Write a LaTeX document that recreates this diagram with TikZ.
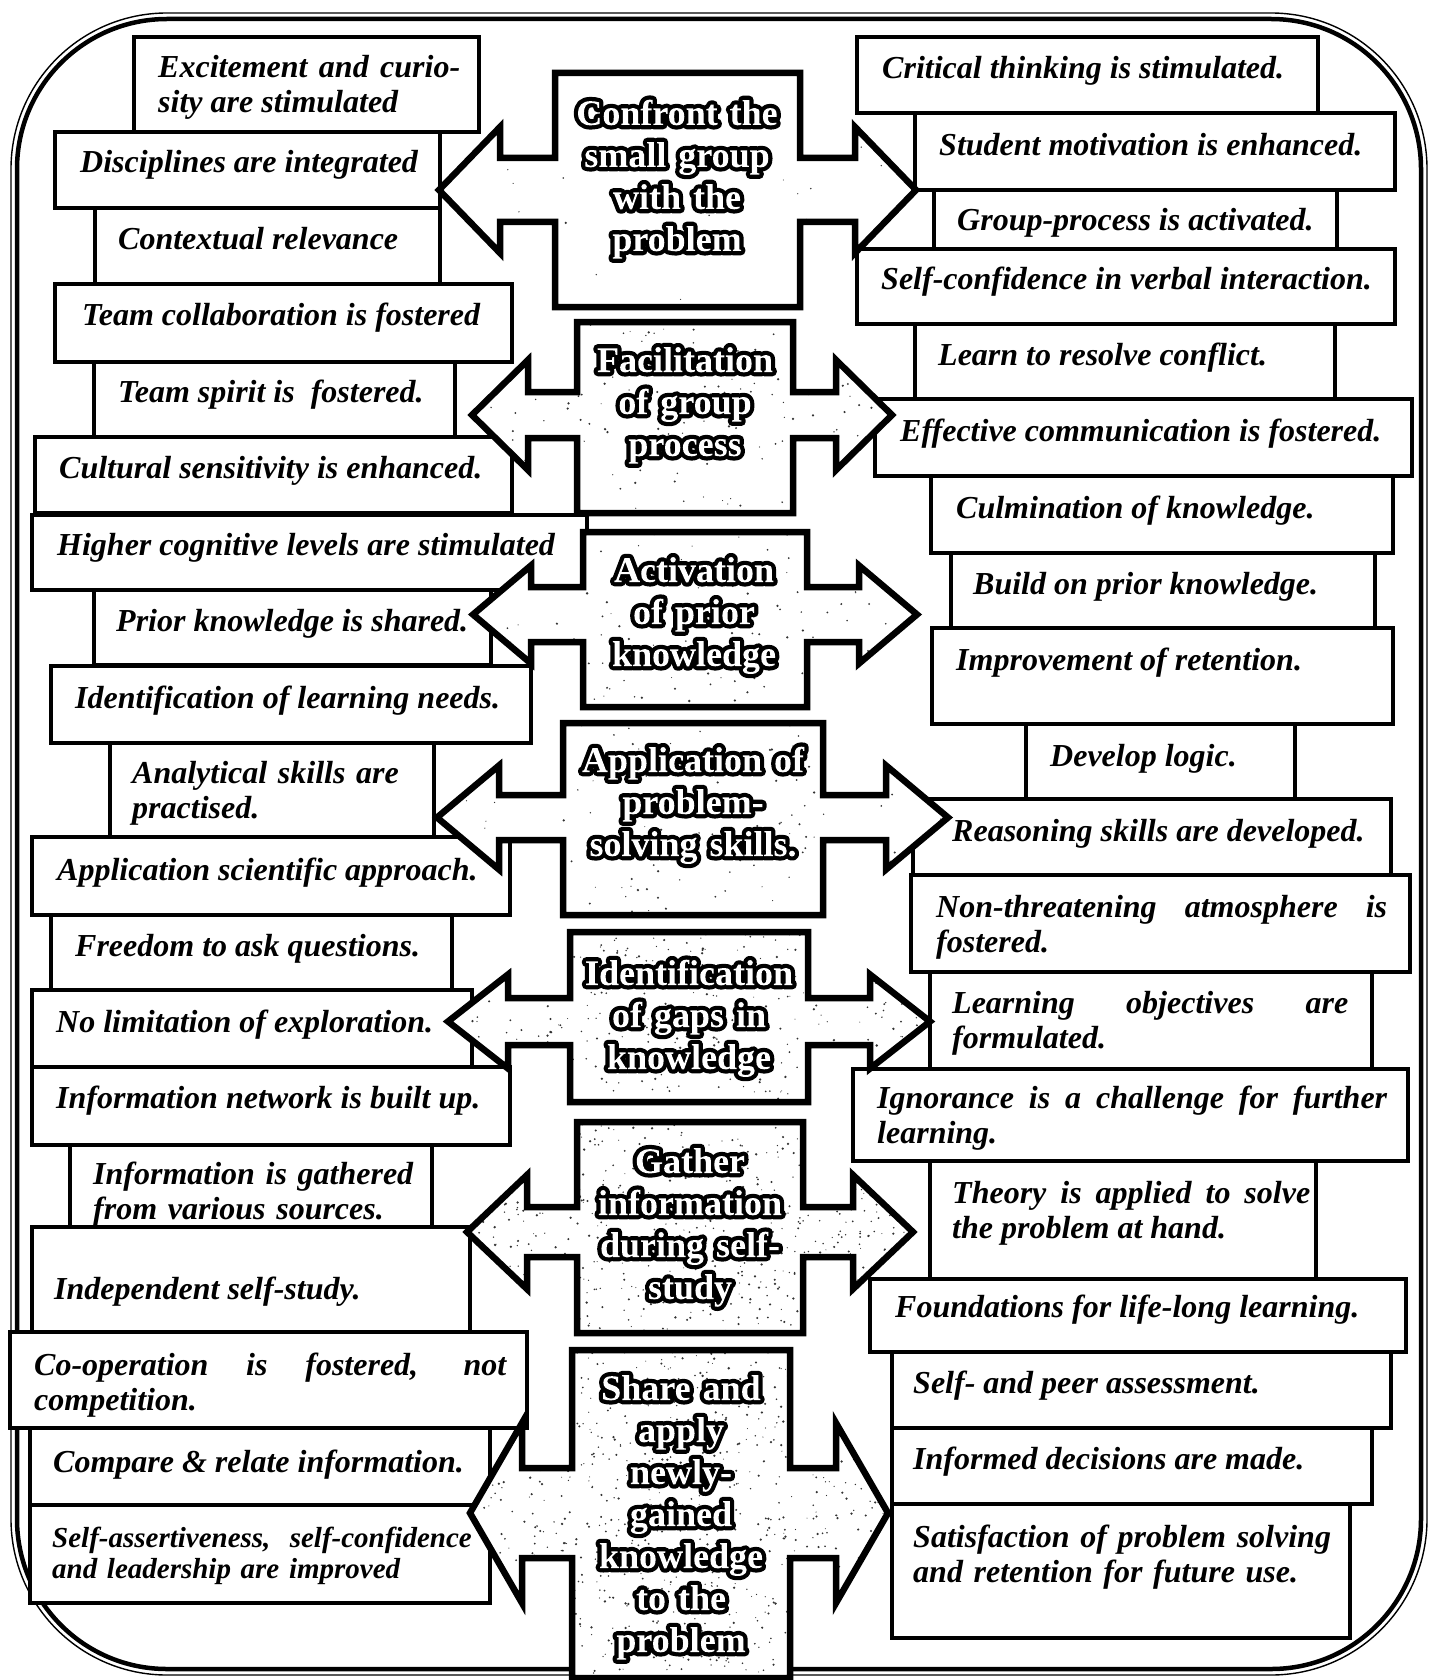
\documentclass[tikz,border=0pt]{standalone}
\usepackage{fontspec}
\setmainfont{Liberation Serif}

% head half-height and head depth of the double-headed arrows
\newcommand\headhalf{55}
\newcommand\headdepth{58}

% #1,#2 top-left corner of the centre box, #3,#4 bottom-right corner,
% #5,#6 top and bottom of the arms, #7,#8 x of the left and right tips,
% #9 number of specks in the grainy fill
\newcommand\dblarrow[9]{%
  \def\arrowoutline{(#1,#2) -- (#3,#2) -- (#3,#5) -- ({#8-\headdepth},#5)
    -- ({#8-\headdepth},{(#5+#6)/2-\headhalf}) -- (#8,{(#5+#6)/2})
    -- ({#8-\headdepth},{(#5+#6)/2+\headhalf}) -- ({#8-\headdepth},#6)
    -- (#3,#6) -- (#3,#4) -- (#1,#4) -- (#1,#6) -- ({#7+\headdepth},#6)
    -- ({#7+\headdepth},{(#5+#6)/2+\headhalf}) -- (#7,{(#5+#6)/2})
    -- ({#7+\headdepth},{(#5+#6)/2-\headhalf}) -- ({#7+\headdepth},#5)
    -- (#1,#5) -- cycle}%
  \fill[white] \arrowoutline;
  \begin{scope}
    \clip \arrowoutline;
    \foreach \k in {1,...,#9}
      \fill[speck] ({#7+rnd*(#8-#7)},{#2+rnd*(#4-#2)}) circle ({0.5+0.8*rnd});
  \end{scope}
  \draw[arrowline] \arrowoutline;
}

% white letters with a black outline: the glyphs are stroked thick in black
% and clipped, then their inside is filled white
\newcommand\outl[1]{%
  \special{pdf:btrans matrix 1 0 0 1 0 0}%
  \special{pdf:literal direct 5 Tr 8.5 w 1 j 0 G}%
  #1%
  \special{pdf:literal direct 1 g -20000 -20000 40000 40000 re f}%
  \special{pdf:etrans}}

\begin{document}
\begin{tikzpicture}[x=1pt,y=-1pt,
  box/.style={draw=black, line width=3.4pt, fill=white},
  arrowline/.style={draw=black, line width=6.5pt, line join=miter},
  speck/.style={fill=black!80},
  lbl/.style={anchor=base west, inner sep=0pt,
    font=\fontsize{32}{35}\selectfont\bfseries\itshape},
  just/.style={lbl, align=justify, text width=#1},
  lines/.style={lbl, align=left, text width=#1},
  hub/.style={anchor=base, inner sep=0pt, text=white, align=center,
    text width=262pt, font=\fontsize{36}{42}\selectfont\bfseries}]
\useasboundingbox (0,0) rectangle (1433,1680);
\pgfmathsetseed{7}

% outer double frame
\draw[line width=1.4pt, rounded corners=156pt] (11,13) rectangle (1427,1675);
\draw[line width=4.5pt, rounded corners=150pt] (17,19) rectangle (1421,1669);

% left column of boxes
\draw[box] (134,37) rectangle (479,132);
\draw[box] (55,132) rectangle (440,208);
\draw[box] (95,208) rectangle (440,284);
\draw[box] (55,284) rectangle (512,362);
\draw[box] (94,362) rectangle (455,437);
\draw[box] (35,437) rectangle (512,513);
\draw[box] (32,515) rectangle (587,590);
\draw[box] (94,590) rectangle (491,665);
\draw[box] (51,666) rectangle (531,743);
\draw[box] (110,743) rectangle (434,837);
\draw[box] (32,837) rectangle (510,915);
\draw[box] (51,915) rectangle (452,990);
\draw[box] (32,990) rectangle (472,1067);
\draw[box] (32,1067) rectangle (510,1145);
\draw[box] (70,1145) rectangle (432,1227);
\draw[box] (32,1227) rectangle (470,1332);
\draw[box] (10,1332) rectangle (527,1428);
\draw[box] (30,1428) rectangle (490,1505);
\draw[box] (30,1505) rectangle (490,1603);

% right column of boxes
\draw[box] (857,37) rectangle (1318,113);
\draw[box] (915,113) rectangle (1395,190);
\draw[box] (934,190) rectangle (1337,249);
\draw[box] (857,249) rectangle (1395,324);
\draw[box] (915,324) rectangle (1335,399);
\draw[box] (875,399) rectangle (1412,476);
\draw[box] (931,476) rectangle (1393,553);
\draw[box] (951,553) rectangle (1375,628);
\draw[box] (932,628) rectangle (1393,724);
\draw[box] (1026,724) rectangle (1295,799);
\draw[box] (913,799) rectangle (1391,875);
\draw[box] (911,875) rectangle (1410,972);
\draw[box] (930,972) rectangle (1372,1069);
\draw[box] (853,1069) rectangle (1408,1161);
\draw[box] (930,1161) rectangle (1316,1279);
\draw[box] (870,1279) rectangle (1406,1352);
\draw[box] (892,1352) rectangle (1391,1428);
\draw[box] (892,1428) rectangle (1372,1504);
\draw[box] (892,1504) rectangle (1350,1638);

% central double-headed arrows
\renewcommand\headhalf{63}\renewcommand\headdepth{61}
\dblarrow{555}{73}{800}{307}{158}{222}{439}{916}{40}
\renewcommand\headhalf{55}\renewcommand\headdepth{56}
\dblarrow{577}{322}{793}{513}{392}{438}{472}{892}{170}
\renewcommand\headhalf{49}\renewcommand\headdepth{58}
\dblarrow{583}{532}{807}{707}{587}{642}{473}{917}{130}
\renewcommand\headhalf{52}\renewcommand\headdepth{62}
\dblarrow{563}{723}{823}{915}{795}{840}{437}{948}{170}
\renewcommand\headhalf{47}\renewcommand\headdepth{60}
\dblarrow{570}{932}{808}{1102}{998}{1045}{448}{930}{380}
\renewcommand\headhalf{57}\renewcommand\headdepth{60}
\dblarrow{577}{1122}{803}{1333}{1207}{1257}{467}{913}{650}
\renewcommand\headhalf{90}\renewcommand\headdepth{52}
\dblarrow{572}{1350}{790}{1678}{1468}{1558}{470}{888}{900}

% texts of the left column
\node[just=302pt] (l1) at (158,78) {Excitement and curio-\linebreak sity are stimulated};
\node[lbl] (l2) at (80,173) {Disciplines are integrated};
\node[lbl] (l3) at (118,250) {Contextual relevance};
\node[lbl] (l4) at (82,325) {Team collaboration is fostered};
\node[lbl] (l5) at (118,402) {Team spirit is\ \ fostered.};
\node[lbl] (l6) at (59,478) {Cultural sensitivity is enhanced.};
\node[lbl] (l7) at (57,555) {Higher cognitive levels are stimulated};
\node[lbl] (l8) at (116,631) {Prior knowledge is shared.};
\node[lbl] (l9) at (75,708) {Identification of learning needs.};
\node[lines=290pt] (l10) at (132,783) {Analytical skills are\\practised.};
\node[lbl] (l11) at (57,880) {Application scientific approach.};
\node[lbl] (l12) at (75,956) {Freedom to ask questions.};
\node[lbl] (l13) at (56,1032) {No limitation of exploration.};
\node[lbl] (l14) at (56,1108) {Information network is built up.};
\node[lines=330pt] (l15) at (93,1184) {Information is gathered\\from various sources.};
\node[lbl] (l16) at (54,1299) {Independent self-study.};
\node[just=472pt] (l17) at (34,1375) {Co-operation is fostered, not\linebreak competition.};
\node[lbl] (l18) at (53,1472) {Compare \& relate information.};
\node[lines=430pt, font=\fontsize{29}{31}\selectfont\bfseries\itshape] (l19) at (52,1547)
  {Self-assertiveness,\ \ self-confidence\\and leadership are improved};

% texts of the right column
\node[lbl] (r1) at (882,79) {Critical thinking is stimulated.};
\node[lbl] (r2) at (939,156) {Student motivation is enhanced.};
\node[lbl] (r3) at (957,231) {Group-process is activated.};
\node[lbl] (r4) at (881,289) {Self-confidence in verbal interaction.};
\node[lbl] (r5) at (938,365) {Learn to resolve conflict.};
\node[lbl] (r6) at (900,441) {Effective communication is fostered.};
\node[lbl] (r7) at (956,518) {Culmination of knowledge.};
\node[lbl] (r8) at (973,594) {Build on prior knowledge.};
\node[lbl] (r9) at (956,670) {Improvement of retention.};
\node[lbl] (r10) at (1050,766) {Develop logic.};
\node[lbl] (r11) at (952,841) {Reasoning skills are developed.};
\node[just=451pt] (r12) at (936,917) {Non-threatening atmosphere is\linebreak fostered.};
\node[just=396pt] (r13) at (952,1013) {Learning objectives are\linebreak formulated.};
\node[just=510pt] (r14) at (877,1108) {Ignorance is a challenge for further\linebreak learning.};
\node[just=358pt] (r15) at (952,1203) {Theory is applied to solve\linebreak the problem at hand.};
\node[lbl] (r16) at (895,1317) {Foundations for life-long learning.};
\node[lbl] (r17) at (913,1393) {Self- and peer assessment.};
\node[lbl] (r18) at (913,1469) {Informed decisions are made.};
\node[lines=440pt] (r19) at (913,1547) {Satisfaction of problem solving\\and retention for future use.};

% texts of the central arrows
\node[hub] (c1) at (677,125) {\outl{Confront the}\\\outl{small group}\\\outl{with the}\\\outl{problem}};
\node[hub] (c2) at (685,372) {\outl{Facilitation}\\\outl{of group}\\\outl{process}};
\node[hub] (c3) at (694,582) {\outl{Activation}\\\outl{of prior}\\\outl{knowledge}};
\node[hub] (c4) at (693,772) {\outl{Application of}\\\outl{problem-}\\\outl{solving skills.}};
\node[hub] (c5) at (689,985) {\outl{Identification}\\\outl{of gaps in}\\\outl{knowledge}};
\node[hub] (c6) at (690,1173) {\outl{Gather}\\\outl{information}\\\outl{during self-}\\\outl{study}};
\node[hub] (c7) at (681,1400) {\outl{Share and}\\\outl{apply}\\\outl{newly-}\\\outl{gained}\\\outl{knowledge}\\\outl{to the}\\\outl{problem}};
\end{tikzpicture}
\end{document}
